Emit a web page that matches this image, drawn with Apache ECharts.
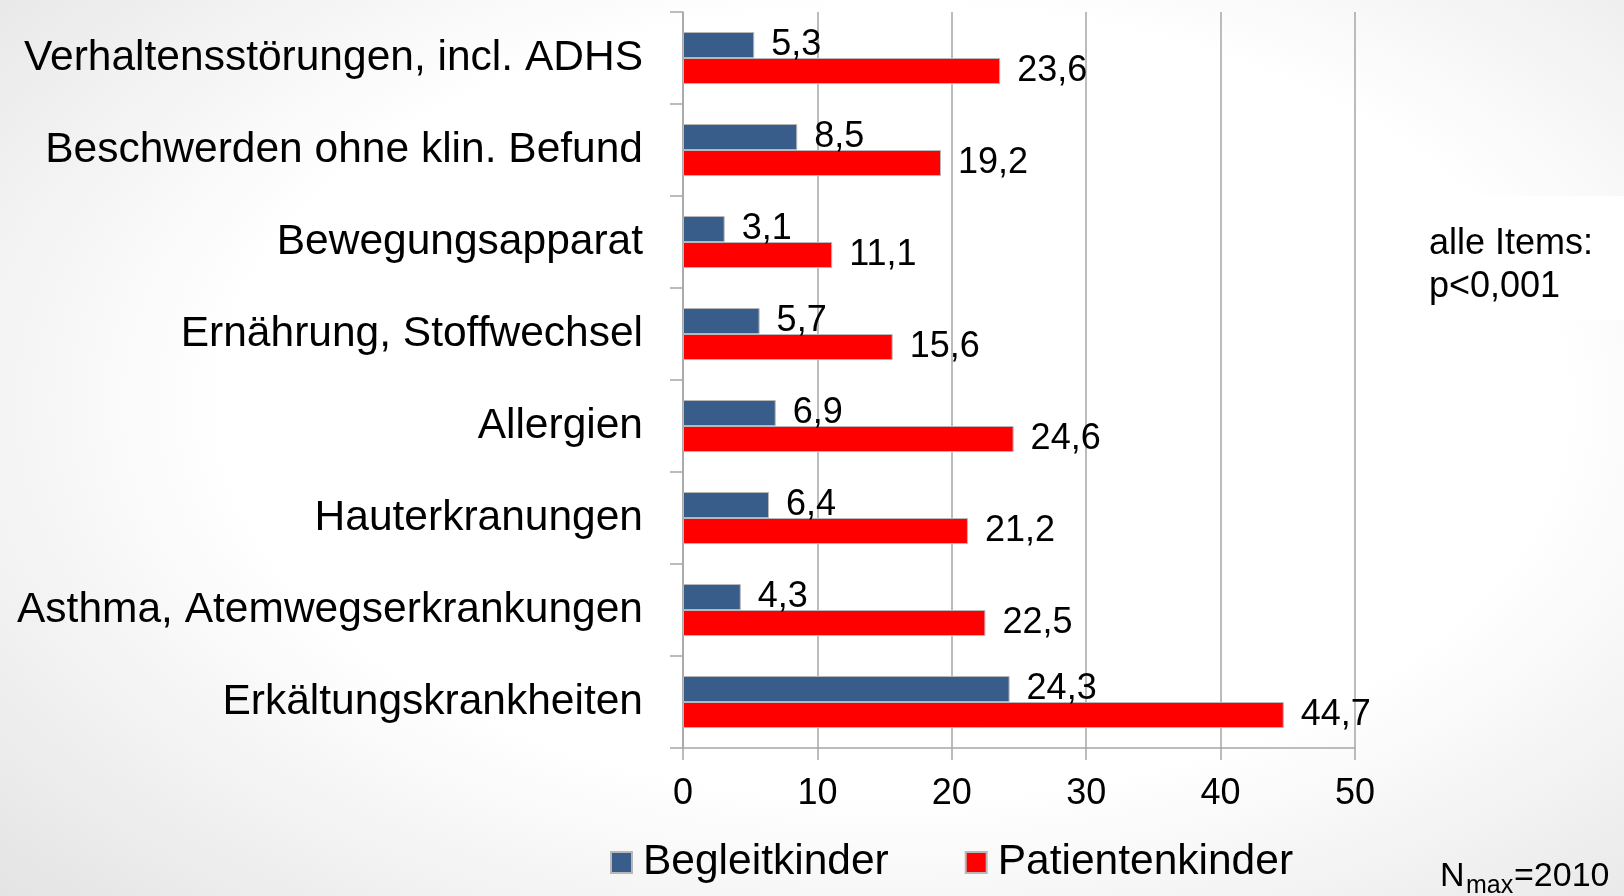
<!DOCTYPE html>
<html>
<head>
<meta charset="utf-8">
<script src="https://cdn.jsdelivr.net/npm/echarts@6/dist/echarts.min.js"></script>
<style>
  html, body { margin: 0; padding: 0; }
  body {
    width: 1624px; height: 896px; overflow: hidden;
    background: radial-gradient(ellipse 75% 80% at 55% 45%, #ffffff 55%, #e4e4e4 100%);
  }
  #chart { width: 1624px; height: 896px; }
</style>
</head>
<body>
<div id="chart"></div>
<script>
const categories = [
  'Verhaltensstörungen, incl. ADHS',
  'Beschwerden ohne klin. Befund',
  'Bewegungsapparat',
  'Ernährung, Stoffwechsel',
  'Allergien',
  'Hauterkranungen',
  'Asthma, Atemwegserkrankungen',
  'Erkältungskrankheiten'
];
const begleitkinder = [5.3, 8.5, 3.1, 5.7, 6.9, 6.4, 4.3, 24.3];
const patientenkinder = [23.6, 19.2, 11.1, 15.6, 24.6, 21.2, 22.5, 44.7];
const seriesNames = ['Begleitkinder', 'Patientenkinder'];
const noteLines = ['alle Items:', 'p<0,001'];

const font = '"Liberation Sans", Arial, sans-serif';
const gray = '#a6a6a6';

const chart = echarts.init(document.getElementById('chart'));

function fmt(p) {
  return String(p.value).replace('.', ',');
}

const labelStyle = {
  show: true,
  position: 'right',
  distance: 17,
  formatter: fmt,
  fontSize: 36,
  fontFamily: font,
  color: '#000'
};

chart.setOption({
  animation: false,
  backgroundColor: 'transparent',
  textStyle: { fontFamily: font },
  grid: { left: 683, right: 269, top: 12, bottom: 148, containLabel: false },
  legend: {
    left: 610,
    top: 841,
    padding: 0,
    icon: 'rect',
    itemWidth: 21,
    itemHeight: 21,
    itemGap: 76,
    textStyle: { fontSize: 42.5, fontFamily: font, color: '#000', padding: [0, 0, 0, 6] },
    data: seriesNames
  },
  xAxis: {
    type: 'value',
    min: 0,
    max: 50,
    interval: 10,
    axisLine: { show: true, lineStyle: { color: gray, width: 1.5 } },
    axisTick: { show: true, length: 12, lineStyle: { color: gray, width: 1.5 } },
    axisLabel: { fontSize: 36, fontFamily: font, color: '#000', margin: 28 },
    splitLine: { show: true, lineStyle: { color: gray, width: 1.5 } }
  },
  yAxis: {
    type: 'category',
    inverse: true,
    data: categories,
    axisLine: { show: true, lineStyle: { color: gray, width: 1.5 } },
    axisTick: { show: true, length: 13, lineStyle: { color: gray, width: 1.5 } },
    axisLabel: { fontSize: 42.5, fontFamily: font, color: '#000', margin: 40 }
  },
  series: [
    {
      name: seriesNames[0],
      type: 'bar',
      data: begleitkinder,
      barWidth: 26,
      barGap: 0,
      itemStyle: { color: '#385d8a', borderColor: '#b8b8b8', borderWidth: 1 },
      label: labelStyle
    },
    {
      name: seriesNames[1],
      type: 'bar',
      data: patientenkinder,
      barWidth: 26,
      barGap: 0,
      itemStyle: { color: '#ff0000', borderColor: '#b8b8b8', borderWidth: 1 },
      label: labelStyle
    }
  ],
  graphic: [
    {
      type: 'rect',
      shape: { x: 1409, y: 196, width: 215, height: 124 },
      style: { fill: '#ffffff' }
    },
    {
      type: 'text',
      x: 1429, y: 244,
      style: { text: noteLines[0], fontSize: 36, fontFamily: font, fill: '#000', verticalAlign: 'middle' }
    },
    {
      type: 'text',
      x: 1429, y: 287,
      style: { text: noteLines[1], fontSize: 36, fontFamily: font, fill: '#000', verticalAlign: 'middle' }
    },
    {
      type: 'text',
      x: 1440, y: 877,
      style: { text: 'N', fontSize: 34, fontFamily: font, fill: '#000', verticalAlign: 'middle' }
    },
    {
      type: 'text',
      x: 1466, y: 886,
      style: { text: 'max', fontSize: 25, fontFamily: font, fill: '#000', verticalAlign: 'middle' }
    },
    {
      type: 'text',
      x: 1514, y: 877,
      style: { text: '=2010', fontSize: 34, fontFamily: font, fill: '#000', verticalAlign: 'middle' }
    }
  ]
});

window.addEventListener('resize', () => {
  chart.resize();
});
</script>
</body>
</html>
